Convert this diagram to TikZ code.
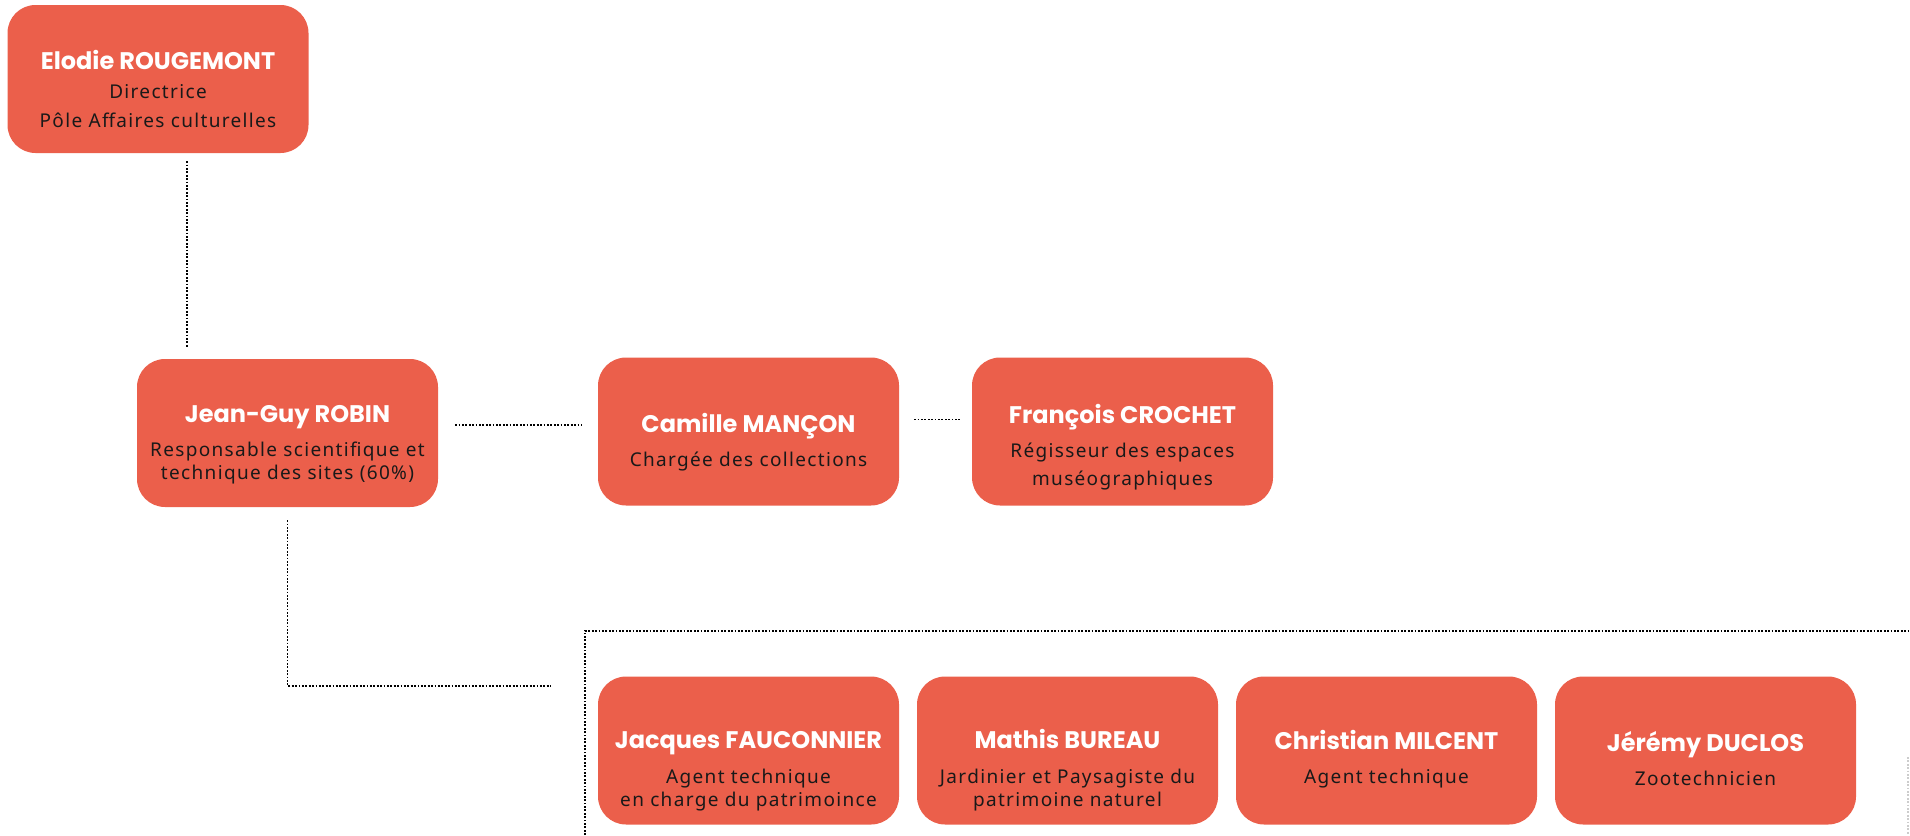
\documentclass[tikz,border=0pt]{standalone}
\usepackage{fontspec}
\setmainfont{Noto Sans}[LetterSpace=7]
\newfontfamily\namefont{Poppins}
\definecolor{coral}{RGB}{235,95,75}
\tikzset{
  card/.style={rectangle, rounded corners=28pt, fill=coral, minimum width=301pt, minimum height=148pt,
    inner sep=0pt, align=center, text=black!90, font=\fontsize{19}{23}\selectfont},
  link/.style={line width=1.8pt, dash pattern=on 1.8pt off 1.6pt},
}
\newcommand{\who}[4][41pt]{\rule{0pt}{#1}{\namefont\bfseries\fontsize{24}{28}\selectfont\color{white}#2}\\[#3]#4}
\begin{document}
\begin{tikzpicture}[x=1pt, y=-1pt]
\useasboundingbox (0,0) rectangle (1910,835);
\node[card] (emp0) at (158,79){\who[40pt]{Elodie ROUGEMONT}{6pt}{Directrice\\[6pt]P\^ole Affaires culturelles}};
\node[card] (emp1) at (287.5,433){\who{Jean-Guy ROBIN}{11pt}{Responsable scientifique et\\technique des sites (60\%)}};
\node[card] (emp2) at (748.5,431.5){\who{Camille MAN\c{C}ON}{11pt}{Charg\'ee des collections}};
\node[card] (emp3) at (1122.5,431.5){\who[50pt]{Fran\c{c}ois CROCHET}{11pt}{R\'egisseur des espaces\\[5pt]mus\'eographiques}};
\node[card] (emp4) at (748.5,750.5){\who[58pt]{Jacques FAUCONNIER}{12pt}{Agent technique\\en charge du patrimoince}};
\node[card] (emp5) at (1067.5,750.5){\who[58pt]{Mathis BUREAU}{12pt}{Jardinier et Paysagiste du\\patrimoine naturel}};
\node[card] (emp6) at (1386.5,750.5){\who[37pt]{Christian MILCENT}{11pt}{Agent technique}};
\node[card] (emp7) at (1705.5,750.5){\who[37pt]{J\'er\'emy DUCLOS}{11pt}{Zootechnicien}};
\coordinate (team) at (551,686);
\draw[link, shorten <=8pt, shorten >=12pt] ([xshift=29pt]emp0.south) -- ([xshift=29pt]emp0.south |- emp1.north);
\draw[link, shorten <=17pt, shorten >=16pt] ([yshift=8pt]emp1.east) -- ([yshift=8pt]emp1.east -| emp2.west);
\draw[link, shorten <=15pt, shorten >=11pt] ([yshift=12pt]emp2.east) -- ([yshift=12pt]emp2.east -| emp3.west);
\draw[link, shorten <=13pt] (emp1.south) |- (team);
% team frame
\draw[link] (585,835) -- (585,631) -- (1910,631);
\draw[link, gray!40] (1908,757) -- (1908,835);
\end{tikzpicture}
\end{document}
